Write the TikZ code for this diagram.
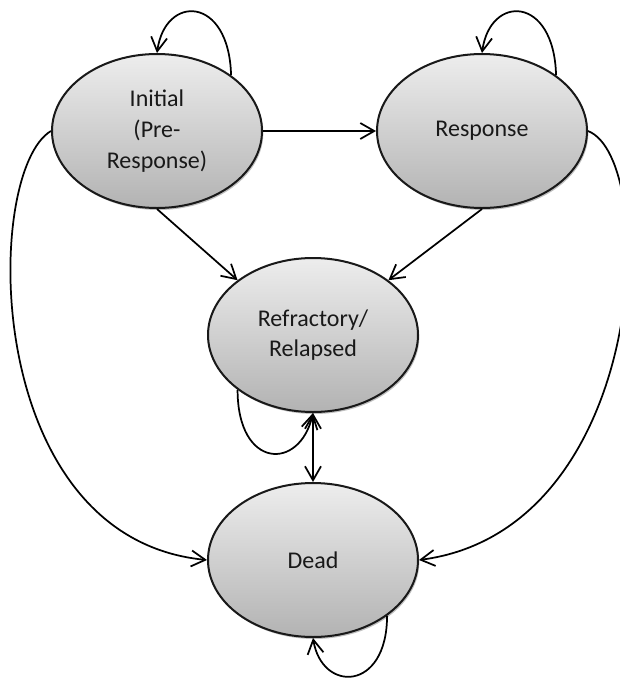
\documentclass[tikz,border=0pt]{standalone}
\usepackage{fontspec}
\setmainfont{Carlito}
\usetikzlibrary{arrows.meta,shapes.geometric,shadows}
\begin{document}
\begin{tikzpicture}[x=0.75pt,y=-0.75pt,
  >={Straight Barb[length=10.5pt,width=12pt]},
  state/.style={ellipse, draw=black!90, line width=1.5pt,
    minimum width=157.5pt, minimum height=115.5pt, inner sep=0pt,
    top color=black!7, bottom color=black!30,
    drop shadow={shadow xshift=1pt, shadow yshift=-1.5pt, opacity=0.25, fill=black},
    align=center, font=\fontsize{18}{23}\selectfont, text=black!90},
  conn/.style={line width=1.3pt, ->},
  dconn/.style={line width=1.3pt, <->}]
\useasboundingbox (0,0) rectangle (619,679);
\node[state] (init) at (157,131) {Initial\\(Pre-\\Response)};
\node[state] (resp) at (482,131) {Response};
\node[state] (ref) at (313,335) {Refractory/\\Relapsed};
\node[state] (dead) at (313,560) {Dead};
% straight connectors
\draw[conn] (init.east) -- (resp.west);
\draw[conn] (init.south) -- (ref.144);
\draw[conn] (resp.south) -- (ref.36);
\draw[dconn] (ref.south) -- (dead.north);
% long curves
\draw[conn] (init.west) .. controls +(-68,40) and +(-227,-22) .. (dead.west);
\draw[conn] (resp.east) .. controls +(72,28) and +(230,-30) .. (dead.east);
% self loops
\draw[conn] (init.37) .. controls +(-2,-80) and +(8,-59) .. (init.north);
\draw[conn] (resp.37) .. controls +(-2,-80) and +(8,-59) .. (resp.north);
\draw[conn] (ref.216) .. controls +(0,80) and +(-13,58) .. (ref.south);
\draw[conn] (dead.323) .. controls +(0,76) and +(9,55) .. (dead.south);
\end{tikzpicture}
\end{document}
